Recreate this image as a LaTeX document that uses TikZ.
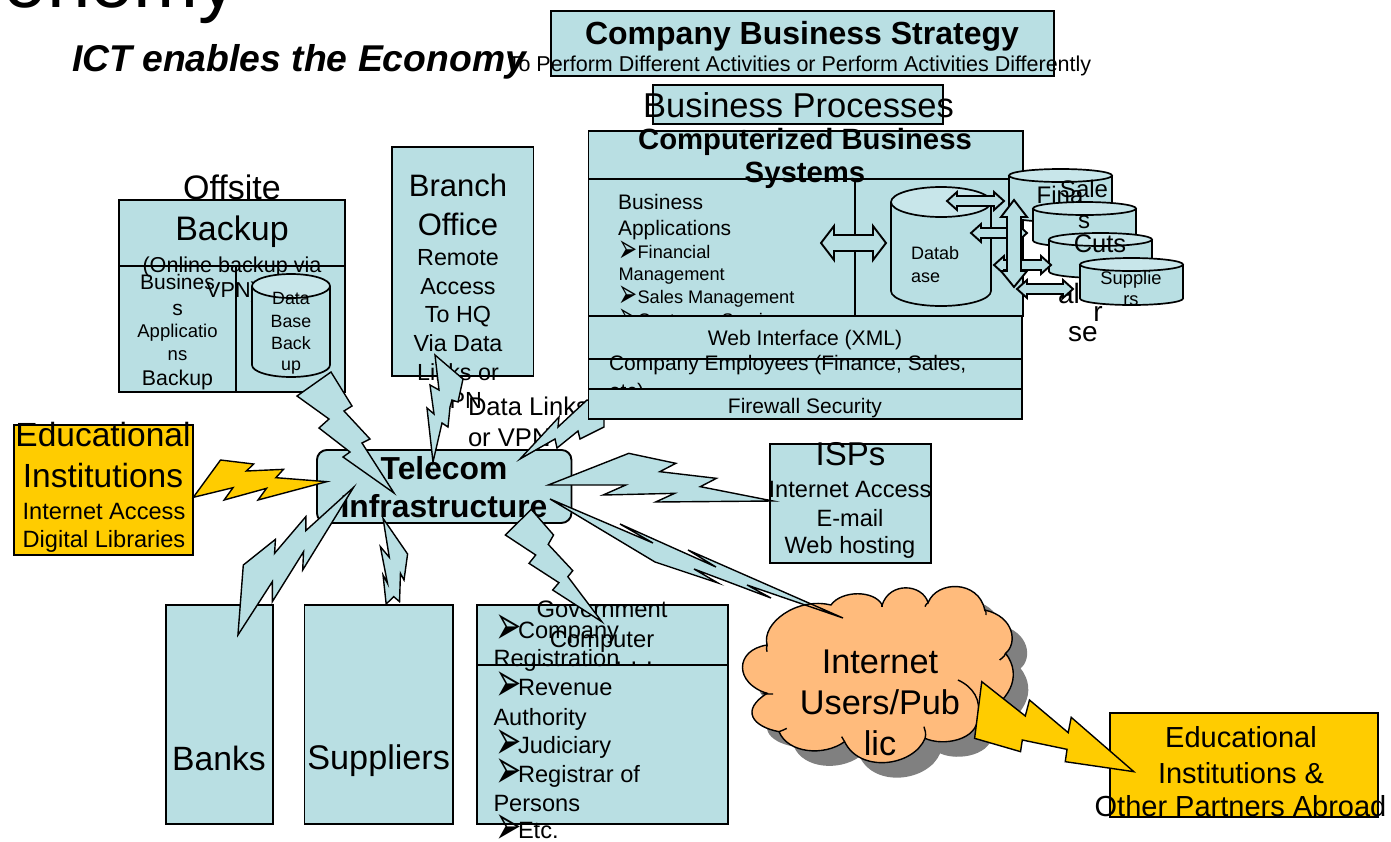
\documentclass[tikz,border=0pt]{standalone}
\usepackage{fontspec}
\setmainfont{Liberation Sans}
\newfontfamily\dv{DejaVu Sans}
\newcommand{\fs}[2]{\fontsize{#1}{#2}\selectfont}
\definecolor{tealf}{HTML}{B9DFE3}
\definecolor{capcol}{HTML}{C8E6EA}
\definecolor{gold}{HTML}{FFCC00}
\definecolor{peach}{HTML}{FFBB7C}
\tikzset{
 boxs/.style={draw=black,line width=1.9pt,fill=tealf},
 ybox/.style={draw=black,line width=1.9pt,fill=gold},
 bolt/.style={draw=black,line width=1.4pt,fill=tealf,line join=miter},
 ybolt/.style={draw=black,line width=1.4pt,fill=gold},
 txt/.style={inner sep=0pt,outer sep=0pt,text=black},
 zthree/.style={shift={(0pt,-400pt)},x=0.44643pt,y=-0.33333pt},
 zfour/.style={shift={(460pt,-430pt)},x=0.5963pt,y=-0.33333pt},
 dbl/.style={draw=black,line width=1.9pt,fill=tealf},
 cloudline/.style={draw=black,line width=1.4pt},
}
% centred text line: name x baseline size text
\newcommand{\tc}[5]{\node[txt,anchor=base,font=\fs{#4}{#4}] (#1) at (#2,#3) {#5};}
% left-aligned text line
\newcommand{\tw}[5]{\node[txt,anchor=base west,font=\fs{#4}{#4}] (#1) at (#2,#3) {#5};}
% bullet glyph: font size, advance
\newcommand{\bul}[2]{\makebox[#2pt][l]{\dv\fs{#1}{#1}\raisebox{-.3em}{\scalebox{1.57}[2.8]{➢}}}}
% cylinder: x1 x2 ytop ry ybottom name
\newcommand{\cyl}[6]{%
 \coordinate (#6) at ({(#1+#2)/2},{(#3+#5)/2});
 \draw[line width=1.7pt,fill=tealf] (#1,#3+#4) -- (#1,#5-#4) arc[start angle=180,end angle=360,x radius={(#2-#1)/2},y radius=-#4] -- (#2,#3+#4);
 \draw[line width=1.7pt,fill=capcol] ({(#1+#2)/2},#3+#4) ellipse[x radius={(#2-#1)/2},y radius=#4];
}
% horizontal double arrow: x1 x2 yc head-half shaft-half head-len
\newcommand{\harrow}[6]{\draw[dbl] (#1,#3) -- (#1+#6,#3-#4) -- (#1+#6,#3-#5) -- (#2-#6,#3-#5) -- (#2-#6,#3-#4) -- (#2,#3) -- (#2-#6,#3+#4) -- (#2-#6,#3+#5) -- (#1+#6,#3+#5) -- (#1+#6,#3+#4) -- cycle;}
\begin{document}
\begin{tikzpicture}[x=1pt,y=-1pt]
\useasboundingbox (0,0) rectangle (1391,841);
\clip (0,0) rectangle (1391,841);
\fill[white] (0,0) rectangle (1391,841);

\node[txt,anchor=base east,font=\fs{78}{80}] (title) at (238,7.5) {Economy};
\node[txt,anchor=base west,font={\bfseries\itshape\fs{37.3}{40}}] (sub) at (72,71) {ICT enables the Economy};

% Strategy
\draw[boxs] (551,11) rectangle (1054,76);
\node[txt,anchor=base,font={\bfseries\fs{32}{34}}] (strat) at (802,44) {Company Business Strategy};
\tc{strat2}{799.5}{71}{21.5}{To Perform Different Activities or Perform Activities Differently}
% processes
\draw[boxs] (653,85) rectangle (943,124);
\tc{proc}{798.5}{117.5}{34.5}{Business Processes}

% Telecom
\node[boxs,rounded corners=10pt,minimum width=254.5pt,minimum height=73pt,inner sep=0pt,anchor=north west] (tel) at (316,449) {};
\node[txt,anchor=base,font={\bfseries\fs{31.8}{34}}] (tela) at (444,479) {Telecom};
\node[txt,anchor=base,font={\bfseries\fs{31.8}{34}}] (telb) at (444,517) {Infrastructure};

% Branch
\draw[boxs] (392,147) rectangle (533.5,376);
\tc{bra}{458}{196}{31}{Branch}
\tc{brb}{458}{235}{31}{Office}
\tc{brc}{458}{265}{23.3}{Remote}
\tc{brd}{458}{294}{23.3}{Access}
\tc{bre}{458}{322}{23.3}{To HQ}
\tc{brf}{458}{351}{23.3}{Via Data}
\tc{brg}{458}{380}{23.3}{Links or}
\tc{brh}{458}{408}{23.3}{VPN}

% Data links label and its bolt under the firewall box
\tw{dla}{468}{415}{25.6}{Data Links}
\tw{dlb}{468}{446}{25.6}{or VPN}
\draw[bolt] (520,459) -- (559,417) -- (558,427) -- (587,400) -- (604,405) -- (604,427) -- (580,439) -- (578,431) -- (557,448) -- (555,439) -- cycle;

% Computerized
\draw[boxs] (588.5,131) rectangle (1023,179);
\node[txt,anchor=base,font={\bfseries\fs{29.3}{30}}] (compa) at (805,149) {Computerized Business};
\draw[boxs] (588.5,179) rectangle (1023,316);
\draw[boxs] (855,179) -- (855,316);
\node[txt,anchor=base,font={\bfseries\fs{29.3}{30}}] (compb) at (805,182) {Systems};
\tw{appa}{618}{209}{21}{Business}
\tw{appb}{618}{235}{21}{Applications}
\tw{appc}{618}{258}{18.2}{\bul{14.5}{19.6}Financial}
\tw{appd}{618.5}{280}{18.2}{Management}
\tw{appe}{618}{303}{18.2}{\bul{14.5}{19.6}Sales Management}
\tw{appf}{618}{326}{18.2}{\bul{14.5}{19.6}Customer Service}
\cyl{891}{991}{187}{15}{306}{db}
\tw{dbta}{911}{259}{18}{Datab}
\tw{dbtb}{911}{282}{18}{ase}
\draw[boxs] (588.5,316) rectangle (1022,359);
\tc{web}{805}{345}{21.1}{Web Interface (XML)}
\draw[boxs] (588.5,359) rectangle (1022,389);
\tw{empa}{609}{370}{21}{Company Employees (Finance, Sales,}
\tw{empb}{609}{398}{21}{etc)}
\draw[boxs] (588.5,389) rectangle (1022,419);
\tc{fw}{805}{413}{21}{Firewall Security}

% stack of databases
\cyl{1009}{1112}{169}{6.5}{222}{c1}
\tc{fina}{1060}{203}{24}{Fina}
\tc{sale}{1084}{197}{24}{Sale}
\cyl{1033}{1136}{202}{6.5}{247}{c2}
\tc{sb}{1084}{228}{24}{s}
\cyl{1049}{1152}{233}{6.5}{278}{c3}
\tc{cuts}{1100}{252}{25.5}{Cuts}
\tw{al}{1058}{303}{28}{al}
\tc{rr}{1098}{321}{28}{r}
\tc{se}{1083}{341}{28}{se}
\cyl{1080}{1183}{258}{6.5}{305}{c4}
\tc{sup}{1131}{284}{18.3}{Supplie}
\tc{supb}{1131}{305}{18.3}{rs}

% arrows
\harrow{821}{886}{243}{17}{8}{13}
\harrow{947}{1004}{201}{9}{5}{10}
\harrow{971}{1027}{233}{9}{5}{10}
\harrow{994}{1051}{265}{9}{5}{10}
\draw[dbl] (1014,200) -- (1027,217) -- (1021,217) -- (1021,271) -- (1027,271) -- (1014,287) -- (1001,271) -- (1007,271) -- (1007,217) -- (1001,217) -- cycle;
\harrow{1017}{1073}{289}{9}{5}{10}

% Offsite
\draw[boxs] (119,200) rectangle (345,266);
\draw[boxs] (119,266) rectangle (236,392);
\draw[boxs] (236,266) rectangle (345,392);
\tc{offa}{232}{199}{34}{Offsite}
\tc{offb}{232}{240}{34}{Backup}
\tc{onla}{232}{272}{21.6}{(Online backup via}
\tc{onlb}{232}{297}{21.6}{VPN)}
\tc{busa}{177.5}{289}{21}{Busines}
\tc{busb}{177.5}{315}{21}{s}
\tc{busc}{177.5}{337}{18.5}{Applicatio}
\tc{busd}{177.5}{360}{18.5}{ns}
\tc{buse}{177.5}{385}{21.3}{Backup}
\cyl{252}{330}{274}{12}{377}{bk}
\tc{bka}{291}{304}{17.8}{Data}
\tc{bkb}{291}{327}{17.8}{Base}
\tc{bkc}{291}{349}{17.8}{Back}
\tc{bkd}{291}{370}{17.8}{up}

% bolts towards the offsite and branch boxes
\draw[bolt] (331,372) -- (352,406) -- (344,411) -- (370,439) -- (362,443) -- (394,493) -- (343,457) -- (350,452) -- (319,428) -- (329,419) -- (297,396) -- cycle;
\draw[bolt] (435,355) -- (463,379) -- (458,402) -- (452,400) -- (450,407) -- (448,427) -- (442,423) -- (433,462) -- (427,408) -- (434,414) -- (430,385) -- (439,390) -- cycle;

% Educational
\draw[ybox] (14,425) rectangle (193,555);
\tc{edua}{103}{446}{33.5}{Educational}
\tc{edub}{103}{487}{33.5}{Institutions}
\tc{educ}{104}{519}{23.6}{Internet Access}
\tc{edud}{104}{547}{23.6}{Digital Libraries}
\begin{scope}[zthree]
\draw[ybolt] (433,292) -- (494,180) -- (568,192) -- (552,213) -- (635,208) -- (618,233) -- (732,245) -- (578,300) -- (597,265) -- (502,300) -- (522,263) -- cycle;
\end{scope}

% lower boxes
\draw[boxs] (166,605) rectangle (273,824);
\tc{banks}{219}{770}{33.7}{Banks}
\draw[boxs] (304.5,605) rectangle (453,824);
\tc{supp}{378.7}{769.5}{34.2}{Suppliers}
\draw[boxs] (477,605) rectangle (728,665);
\tc{govc}{634}{664}{23.8}{. . .}
\draw[boxs] (477,665) rectangle (728,824);
\tc{gova}{602}{617}{23.8}{Government}
\tc{govb}{602}{647}{23.8}{Computer}
\tw{gla}{495}{638}{23.6}{\bul{20}{23}Company}
\tw{glb}{493.5}{666}{23.6}{Registration}
\tw{glc}{495}{695}{23.6}{\bul{20}{23}Revenue}
\tw{gld}{493.5}{725}{23.6}{Authority}
\tw{gle}{495}{753}{23.6}{\bul{20}{23}Judiciary}
\tw{glf}{495}{782}{23.6}{\bul{20}{23}Registrar of}
\tw{glg}{493.5}{811}{23.6}{Persons}
\tw{glh}{495}{838}{23.6}{\bul{20}{23}Etc.}

\begin{scope}[zthree]
\draw[bolt] (533,705) -- (545,495) -- (617,418) -- (615,460) -- (685,350) -- (685,392) -- (792,262) -- (678,510) -- (680,455) -- (610,605) -- (610,545) -- cycle;
\draw[bolt] (858,355) -- (913,462) -- (905,540) -- (897,520) -- (895,605) -- (882,590) -- (865,612) -- (858,525) -- (868,550) -- (852,440) -- (872,472) -- cycle;
\draw[bolt] (1190,328) -- (1240,405) -- (1228,433) -- (1283,512) -- (1272,530) -- (1348,665) -- (1238,570) -- (1252,548) -- (1185,490) -- (1200,465) -- (1132,405) -- cycle;
\end{scope}

% ISPs
\draw[boxs] (770,444) rectangle (931,563);
\tc{ispa}{850.5}{465}{33}{ISPs}
\tc{ispb}{850}{497}{23.6}{Internet Access}
\tc{ispc}{850}{526}{23.6}{E-mail}
\tc{ispd}{850}{553}{23.6}{Web hosting}
\begin{scope}[zfour]
\draw[bolt] (148,165) -- (283,70) -- (362,100) -- (335,125) -- (430,145) -- (403,170) -- (525,213) -- (328,216) -- (360,190) -- (240,195) -- (278,165) -- cycle;
\end{scope}

% Bolt towards the cloud: fill beneath, outline above
\def\netbolt{(550,499) -- (653,543) -- (620,524) -- (716,567) -- (688,550) -- (843,618) -- (747,585) -- (771,598) -- (694,569) -- (718,583) -- (655,562) -- cycle}
\fill[tealf] \netbolt;

% Cloud
\begin{scope}[zfour]
\def\cloudpath{(622,525) .. controls (640,480) and (695,480) .. (708,525) .. controls (720,455) and (775,460) .. (785,518) .. controls (800,450) and (870,450) .. (880,540) .. controls (930,560) and (935,640) .. (915,670) .. controls (945,740) and (920,820) .. (868,860) .. controls (870,930) and (810,950) .. (780,925) .. controls (760,1010) and (670,1030) .. (645,935) .. controls (610,980) and (550,970) .. (535,905) .. controls (490,890) and (470,840) .. (515,790) .. controls (460,760) and (460,660) .. (515,645) .. controls (505,580) and (565,500) .. (622,525) -- cycle}
\fill[gray,xshift=15pt,yshift=-15pt] \cloudpath;
\draw[cloudline,fill=peach] \cloudpath;
\draw[cloudline] (880,540) .. controls (885,550) and (880,555) .. (882,555);
\draw[cloudline] (905,690) .. controls (912,680) and (915,675) .. (915,670);
\draw[cloudline] (835,750) .. controls (860,770) and (875,810) .. (868,860);
\draw[cloudline] (780,925) .. controls (782,910) and (780,900) .. (778,890);
\draw[cloudline] (645,935) .. controls (642,930) and (642,925) .. (640,920);
\draw[cloudline] (535,905) .. controls (540,900) and (545,900) .. (548,895);
\draw[cloudline] (515,790) .. controls (505,792) and (515,792) .. (525,792);
\draw[cloudline] (515,645) .. controls (515,650) and (513,655) .. (515,665);
\draw[cloudline] (785,518) .. controls (780,525) and (780,530) .. (780,530);
\draw[cloudline] (708,525) .. controls (708,528) and (708,530) .. (708,530);
\end{scope}
\draw[line width=1.4pt] \netbolt;
\tc{ineta}{880}{673}{34.3}{Internet}
\tc{inetb}{880}{714}{34.3}{Users/Pub}
\tc{inetc}{880}{755}{34.3}{lic}

% abroad
\draw[ybox] (1110,713) rectangle (1378,817);
\tc{abra}{1241}{747}{29}{Educational}
\tc{abrb}{1241}{783}{29}{Institutions \&}
\tc{abrc}{1240.5}{816}{29}{Other Partners Abroad}
\begin{scope}[zfour]
\draw[ybolt] (875,755) -- (948,858) -- (955,810) -- (1020,908) -- (1025,862) -- (1130,1025) -- (1015,995) -- (1018,958) -- (943,930) -- (940,965) -- (863,925) -- cycle;
\end{scope}
\end{tikzpicture}
\end{document}
